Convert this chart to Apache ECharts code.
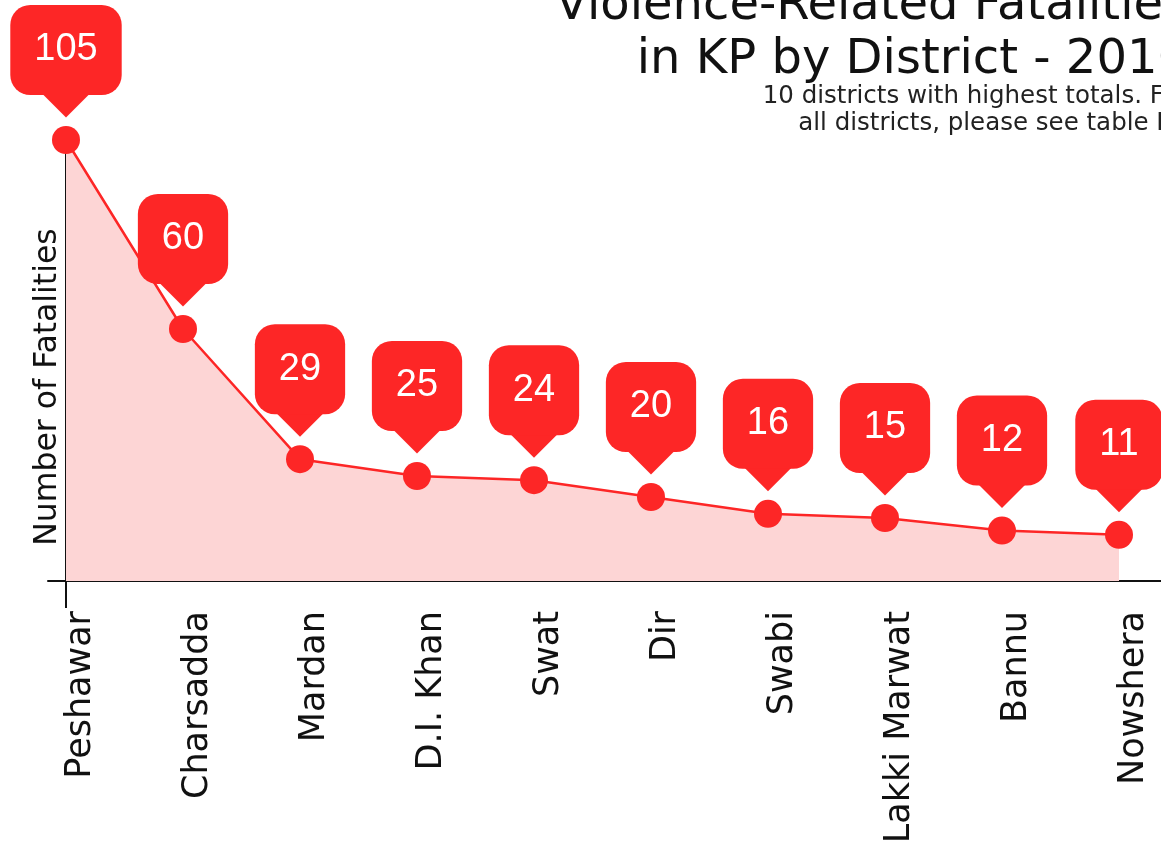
<!DOCTYPE html>
<html>
<head>
<meta charset="utf-8">
<script src="https://cdn.jsdelivr.net/npm/echarts@6/dist/echarts.min.js"></script>
<style>
html,body{margin:0;padding:0;background:#fff;}
#chart{width:1161px;height:852px;}
</style>
</head>
<body>
<div id="chart"></div>
<script>
const districts = ['Peshawar','Charsadda','Mardan','D.I. Khan','Swat','Dir','Swabi','Lakki Marwat','Bannu','Nowshera'];
const fatalities = [105, 60, 29, 25, 24, 20, 16, 15, 12, 11];
const titleText = 'Violence-Related Fatalities\nin KP by District - 2016';
const subText = '10 districts with highest totals. For\nall districts, please see table K1';
const yAxisName = 'Number of Fatalities';

const RED = '#fd2626';
const PINK = '#fdd5d5';
const FONT = 'DejaVu Sans';

const chart = echarts.init(document.getElementById('chart'));
chart.setOption({
  animation: false,
  backgroundColor: '#ffffff',
  title: {
    text: titleText,
    subtext: subText,
    left: 1183,
    top: -25,
    textAlign: 'right',
    itemGap: -5,
    textStyle: {fontFamily: FONT, fontWeight: 'normal', fontSize: 48, lineHeight: 54, color: '#111'},
    subtextStyle: {fontFamily: FONT, fontSize: 24.5, lineHeight: 27, color: '#222'}
  },
  grid: [
    {left: 66, right: 42, top: 140, bottom: 271},
    {left: 48, right: 0, top: 140, bottom: 271}
  ],
  xAxis: [
    {
      type: 'category', gridIndex: 0, data: districts, boundaryGap: false,
      axisLine: {show: true, lineStyle: {color: '#111', width: 2}},
      axisTick: {show: true, length: 27, interval: function (i) { return i === 0; }, lineStyle: {color: '#111', width: 2}},
      axisLabel: {rotate: 90, margin: 30, fontFamily: FONT, fontSize: 35, color: '#111', interval: 0, verticalAlign: 'top', lineHeight: 30}
    },
    {
      type: 'value', gridIndex: 1, min: 0, max: 1,
      axisLine: {show: true, onZero: false, lineStyle: {color: '#111', width: 2}},
      axisTick: {show: false}, axisLabel: {show: false}, splitLine: {show: false}
    }
  ],
  yAxis: [
    {
      type: 'value', gridIndex: 0, min: 0, max: 105,
      axisLine: {show: true, lineStyle: {color: '#111', width: 2}},
      axisTick: {show: false}, axisLabel: {show: false}, splitLine: {show: false}
    },
    {type: 'value', gridIndex: 1, show: false, min: 0, max: 1}
  ],
  graphic: [{
    type: 'text', x: 48, y: 387, rotation: Math.PI / 2,
    style: {text: yAxisName, fontFamily: FONT, fontSize: 31.5, fill: '#111', textAlign: 'center', textVerticalAlign: 'middle'}
  }],
  series: [
    {
      type: 'scatter', xAxisIndex: 0, yAxisIndex: 0, data: fatalities,
      symbol: 'path://M0,0L50,0L25,25Z', symbolSize: [50, 25], symbolOffset: [0, -35],
      itemStyle: {color: RED, opacity: 1}, z: 3, silent: true
    },
    {
      type: 'line', xAxisIndex: 0, yAxisIndex: 0, data: fatalities,
      symbol: 'circle', symbolSize: 28, showAllSymbol: true,
      lineStyle: {color: RED, width: 2.5},
      itemStyle: {color: RED},
      areaStyle: {color: PINK, opacity: 1},
      label: {
        show: true, position: 'top', distance: 31,
        color: '#fff', fontFamily: 'Liberation Sans', fontSize: 38, lineHeight: 38,
        backgroundColor: RED, borderRadius: 20, padding: [26, 24, 26, 24]
      },
      z: 4
    }
  ]
});
</script>
</body>
</html>
